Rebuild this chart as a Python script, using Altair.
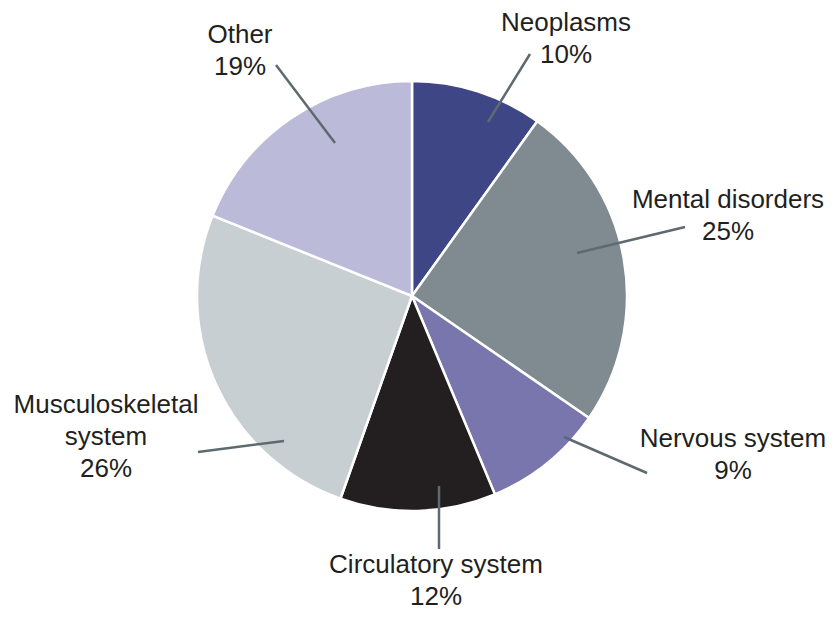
import altair as alt
import pandas as pd

# ---- data ----
categories = ["Neoplasms", "Mental disorders", "Nervous system",
              "Circulatory system", "Musculoskeletal system", "Other"]
shares = [9.9, 24.7, 9.1, 11.7, 25.7, 18.9]          # slice sizes (percent)
pct_labels = ["10%", "25%", "9%", "12%", "26%", "19%"]  # printed labels
name_lines = ["Neoplasms", "Mental disorders", "Nervous system",
              "Circulatory system", "Musculoskeletal\nsystem", "Other"]

# ---- styling ----
colors = ["#3f4686", "#7f8b91", "#7876ac", "#231f20", "#c8cfd3", "#bbbbd9"]

# ---- label layout (pixel offsets from the pie centre, y downwards) ----
line_in_x = [76, 165, 152, 27, -128, -77]
line_in_y = [-174, -43, 141, 190, 145, -153]
line_out_x = [118, 273, 235, 27, -214, -136]
line_out_y = [-242, -69, 177, 253, 156, -231]
label_x = [154, 316, 321, 24, -306, -172]
label_y = [-265, -88, 151, 277, 117, -253]

W, H = 808, 576
R = 215

df = pd.DataFrame({
    "idx": list(range(len(categories))),
    "category": categories,
    "share": shares,
    "label": [n + "\n" + p for n, p in zip(name_lines, pct_labels)],
    "x1": line_in_x, "y1": line_in_y,
    "x2": line_out_x, "y2": line_out_y,
    "lx": label_x, "ly": label_y,
})

xs = alt.Scale(domain=[-W / 2, W / 2])
ys = alt.Scale(domain=[-H / 2, H / 2], reverse=True)

pie = alt.Chart(df).mark_arc(outerRadius=R, stroke="white", strokeWidth=2.5).encode(
    theta=alt.Theta("share:Q", stack=True),
    color=alt.Color("category:N", scale=alt.Scale(domain=categories, range=colors), legend=None),
    order=alt.Order("idx:Q"),
)

leaders = alt.Chart(df).mark_rule(color="#5e6a70", strokeWidth=2.5).encode(
    x=alt.X("x1:Q", scale=xs, axis=None),
    y=alt.Y("y1:Q", scale=ys, axis=None),
    x2="x2:Q",
    y2="y2:Q",
)

labels = alt.Chart(df).mark_text(
    align="center", baseline="alphabetic", fontSize=26, font="Liberation Sans",
    lineHeight=32, lineBreak="\n", color="#231f20",
).encode(
    x=alt.X("lx:Q", scale=xs, axis=None),
    y=alt.Y("ly:Q", scale=ys, axis=None),
    text="label:N",
)

chart = alt.layer(pie, leaders, labels).properties(
    width=W, height=H,
    autosize="none",
    padding={"left": 0, "top": 0, "right": 12, "bottom": 26},
).configure_view(stroke=None)

chart.save("out.html", embed_options={"renderer": "svg", "actions": False})
